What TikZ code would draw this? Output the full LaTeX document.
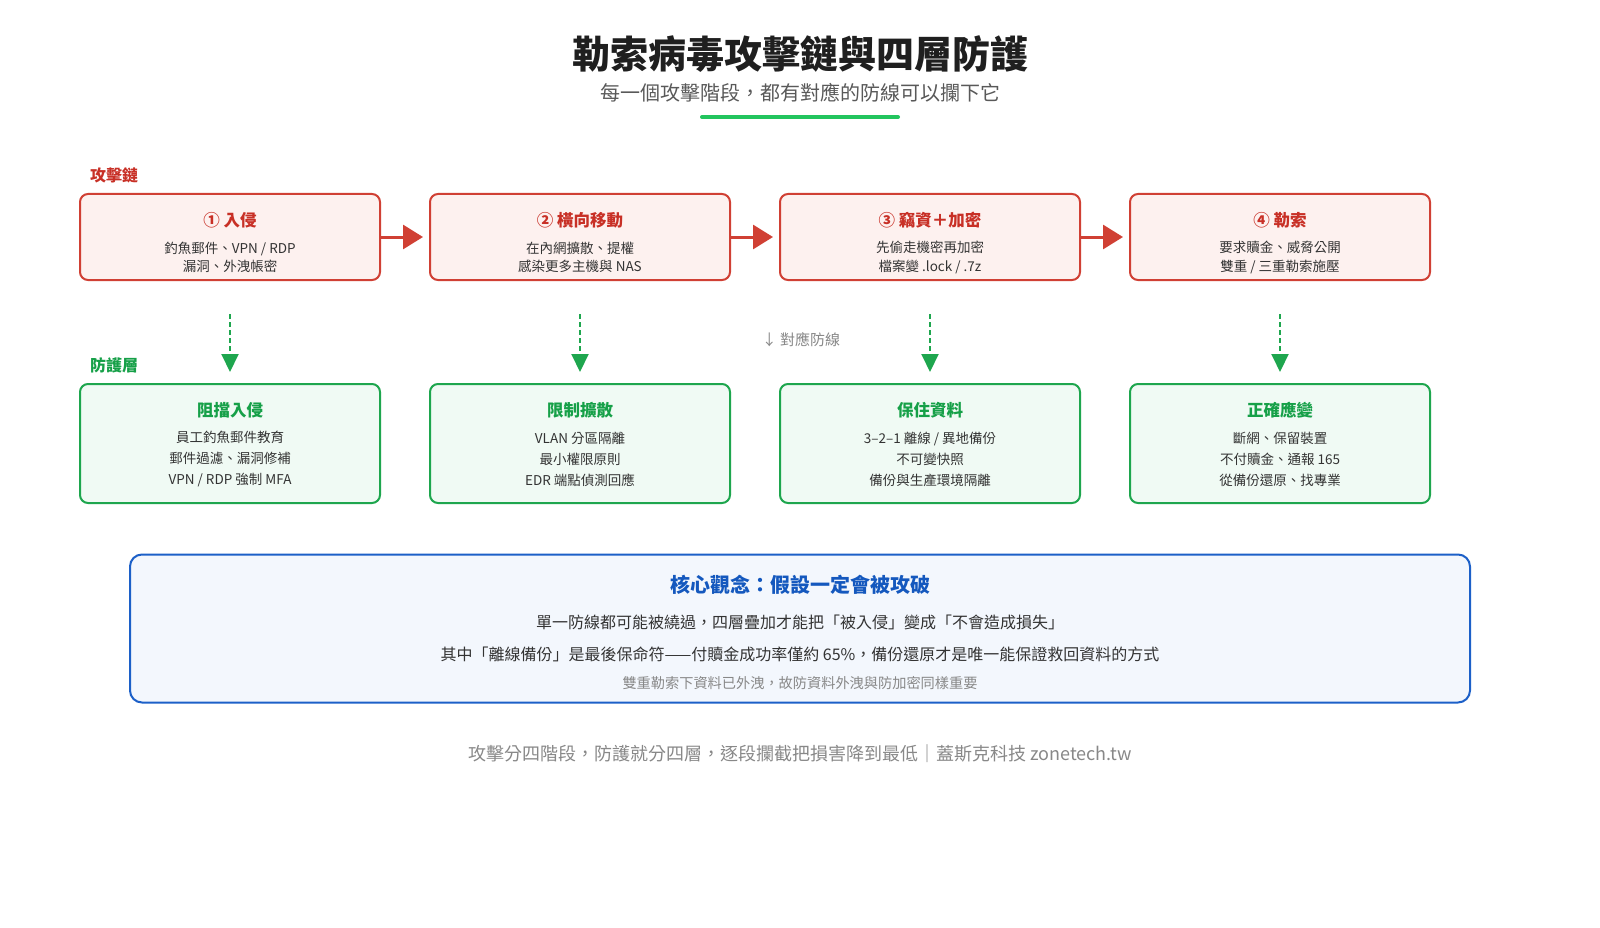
\documentclass[tikz,border=0pt]{standalone}
\usepackage{fontspec}
\setmainfont{Noto Sans CJK TC}
\usepackage{xcolor}
\usetikzlibrary{arrows.meta, positioning, calc}
\definecolor{atkred}{RGB}{208,64,52}
\definecolor{atkfill}{RGB}{253,241,239}
\definecolor{atktext}{RGB}{200,48,38}
\definecolor{defgreen}{RGB}{30,166,78}
\definecolor{deffill}{RGB}{240,250,244}
\definecolor{deftext}{RGB}{22,160,72}
\definecolor{coreblue}{RGB}{28,96,200}
\definecolor{corefill}{RGB}{243,247,253}
\definecolor{coretext}{RGB}{20,88,190}
\definecolor{accentline}{RGB}{34,197,94}
\definecolor{bodygray}{RGB}{51,51,51}
\definecolor{softgray}{RGB}{136,136,136}
\newcommand{\pxfont}[2]{\fontsize{#1}{#2}\selectfont}

\begin{document}
\begin{tikzpicture}[x=1pt, y=-1pt,
    atkbox/.style={draw=atkred, fill=atkfill, line width=2pt, rounded corners=8pt,
        minimum width=300pt, minimum height=86pt, inner sep=0pt},
    defbox/.style={draw=defgreen, fill=deffill, line width=2pt, rounded corners=8pt,
        minimum width=300pt, minimum height=119pt, inner sep=0pt},
    atktitle/.style={text=atktext, font=\pxfont{16.5}{16.5}\bfseries, inner sep=0pt},
    deftitle/.style={text=deftext, font=\pxfont{16.5}{16.5}\bfseries, inner sep=0pt},
    atkbody/.style={text=bodygray, font=\pxfont{13.5}{18.5}, align=center, inner sep=0pt},
    defbody/.style={text=bodygray, font=\pxfont{13.5}{21}, align=center, inner sep=0pt},
    rowlabel/.style={anchor=west, font=\pxfont{16}{16}\bfseries, inner sep=0pt},
    atkarrow/.style={draw=atkred, line width=3pt, shorten >=6pt,
        -{Triangle[length=20pt, width=24pt]}},
    defarrow/.style={draw=defgreen, line width=2pt, dash pattern=on 5pt off 3pt,
        shorten <=33pt, shorten >=11pt, -{Triangle[length=18pt, width=17pt]}}
]
\useasboundingbox[fill=white] (0,0) rectangle (1600,928);

% title
\node[font=\pxfont{38}{38}\bfseries, text=black!88, inner sep=0pt] (title) at (800,54) {勒索病毒攻擊鏈與四層防護};
\node[font=\pxfont{20}{20}, text=black!65, inner sep=0pt] (subtitle) at (800,93) {每一個攻擊階段，都有對應的防線可以攔下它};
\draw[accentline, line width=4pt, line cap=round] (702,117) -- (898,117);

% attack chain
\node[rowlabel, text=atktext] (atklabel) at (90,175) {攻擊鏈};

\node[atkbox] (atk1) at (230,237) {};
\node[atktitle] (atk1t) at (230,220) {① 入侵};
\node[atkbody] (atk1b) at (230,257.5) {釣魚郵件、VPN / RDP\\漏洞、外洩帳密};

\node[atkbox] (atk2) at (580,237) {};
\node[atktitle] (atk2t) at (580,220) {② 橫向移動};
\node[atkbody] (atk2b) at (580,257.5) {在內網擴散、提權\\感染更多主機與 NAS};

\node[atkbox] (atk3) at (930,237) {};
\node[atktitle] (atk3t) at (930,220) {③ 竊資＋加密};
\node[atkbody] (atk3b) at (930,257.5) {先偷走機密再加密\\檔案變 .lock / .7z};

\node[atkbox] (atk4) at (1280,237) {};
\node[atktitle] (atk4t) at (1280,220) {④ 勒索};
\node[atkbody] (atk4b) at (1280,257.5) {要求贖金、威脅公開\\雙重 / 三重勒索施壓};

\draw[atkarrow] (atk1) -- (atk2);
\draw[atkarrow] (atk2) -- (atk3);
\draw[atkarrow] (atk3) -- (atk4);

% defence layers
\node[font=\pxfont{15}{15}, text=softgray, inner sep=0pt] (maplabel) at (801,340) {↓ 對應防線};
\node[rowlabel, text=deftext] (deflabel) at (90,365) {防護層};

\node[defbox] (def1) at (230,443.5) {};
\node[deftitle] (def1t) at (230,410) {阻擋入侵};
\node[defbody] (def1b) at (230,459) {員工釣魚郵件教育\\郵件過濾、漏洞修補\\VPN / RDP 強制 MFA};

\node[defbox] (def2) at (580,443.5) {};
\node[deftitle] (def2t) at (580,410) {限制擴散};
\node[defbody] (def2b) at (580,459) {VLAN 分區隔離\\最小權限原則\\EDR 端點偵測回應};

\node[defbox] (def3) at (930,443.5) {};
\node[deftitle] (def3t) at (930,410) {保住資料};
\node[defbody] (def3b) at (930,459) {3–2–1 離線 / 異地備份\\不可變快照\\備份與生產環境隔離};

\node[defbox] (def4) at (1280,443.5) {};
\node[deftitle] (def4t) at (1280,410) {正確應變};
\node[defbody] (def4b) at (1280,459) {斷網、保留裝置\\不付贖金、通報 165\\從備份還原、找專業};

\draw[defarrow] (atk1) -- (def1);
\draw[defarrow] (atk2) -- (def2);
\draw[defarrow] (atk3) -- (def3);
\draw[defarrow] (atk4) -- (def4);

% core idea
\node[draw=coreblue, fill=corefill, line width=2pt, rounded corners=12pt,
    minimum width=1340pt, minimum height=148pt, inner sep=0pt] (core) at (800,628.5) {};
\node[text=coretext, font=\pxfont{20}{20}\bfseries, inner sep=0pt] (coret) at (800,585) {核心觀念：假設一定會被攻破};
\node[text=bodygray, font=\pxfont{16}{16}, inner sep=0pt] (core1) at (800,622) {單一防線都可能被繞過，四層疊加才能把「被入侵」變成「不會造成損失」};
\node[text=bodygray, font=\pxfont{16}{16}, inner sep=0pt] (core2) at (800,654) {其中「離線備份」是最後保命符——付贖金成功率僅約 65\%，備份還原才是唯一能保證救回資料的方式};
\node[text=softgray, font=\pxfont{14.2}{14.2}, inner sep=0pt] (core3) at (800,683) {雙重勒索下資料已外洩，故防資料外洩與防加密同樣重要};

% footer
\node[text=softgray, font=\pxfont{18}{18}, inner sep=0pt] (footer) at (800,754) {攻擊分四階段，防護就分四層，逐段攔截把損害降到最低｜蓋斯克科技 zonetech.tw};
\end{tikzpicture}
\end{document}
